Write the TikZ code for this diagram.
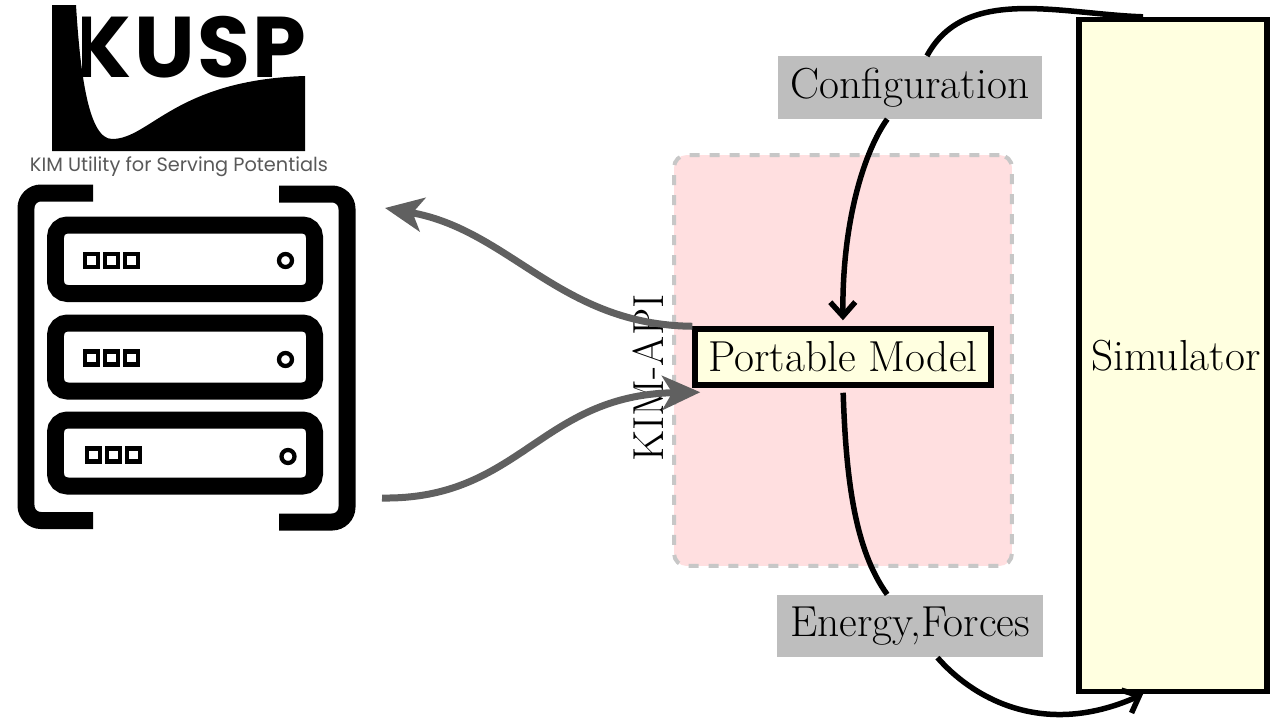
\documentclass[tikz,border=0pt]{standalone}
\usepackage{fontspec}
\usepackage{xcolor}
\usepackage{tikz}
\usetikzlibrary{positioning}
\usetikzlibrary{arrows.meta}
\newfontfamily\logofont{Poppins}
\newfontfamily\logotitle[LetterSpace=3]{Poppins}
\definecolor{ivory}{HTML}{FFFFE0}
\definecolor{labelgrey}{HTML}{BEBEBE}
\definecolor{apipink}{HTML}{FFDFE0}
\definecolor{linkgrey}{HTML}{606060}
\newcommand{\bigtext}{\fontsize{24.7}{29}\selectfont}
\begin{document}
\begin{tikzpicture}[x=0.02cm,y=-0.02cm,
    flow/.style={line width=0.11cm,black},
    link/.style={line width=0.14cm,linkgrey,-{Stealth[length=0.76cm,width=0.68cm,inset=0.2cm]}},
    bar/.style={line width=0.34cm,black},
    mark box/.style={line width=0.085cm,black},
    block/.style={draw=black,fill=ivory,line width=0.11cm,font=\bigtext,inner sep=0pt},
    tag/.style={fill=labelgrey,font=\bigtext,inner sep=0pt,minimum height=1.25cm,minimum width=5.3cm}]
  \useasboundingbox (0,0) rectangle (1280,720);
  % logo
  \node[anchor=base east,font=\logotitle\bfseries\fontsize{49}{49}\selectfont,inner sep=0pt] (kusp) at (307,77) {KUSP};
  \fill[white] (45,0) rectangle (82,80);
  \fill (52,5) -- (76,5) .. controls (80,70) and (88,139) .. (112,139)
    .. controls (150,139) and (175,80) .. (305,76) -- (305,151) -- (52,151) -- cycle;
  \node[font=\logofont\fontsize{11}{13}\selectfont,text=black!65] (tagline) at (179,166.5) {KIM Utility for Serving Potentials};
  % server rack
  \draw[bar,rounded corners=0.3cm] (93,193) -- (26,193) -- (26,520.5) -- (93,520.5);
  \draw[bar,rounded corners=0.3cm] (279,194) -- (347,194) -- (347,522) -- (279,522);
  \foreach \ytop/\ybot/\xm/\ym/\xc/\yc in {225/293.5/91.5/260.5/285.5/260.5,
      323/391/91.5/358/285.5/359.5, 420/486/93.5/455/288/456.5} {
    \draw[bar,rounded corners=0.24cm] (55.5,\ytop) rectangle (314.5,\ybot);
    \foreach \i in {0,1,2}
      \draw[mark box] (\xm+20*\i-6.5,\ym-6.5) rectangle +(13,13);
    \draw[mark box] (\xc,\yc) circle (0.13cm);
  }
  % KIM-API region
  \node[draw=black!22,fill=apipink,line width=0.08cm,dash pattern=on 0.2cm off 0.2cm,rounded corners=0.25cm,
    minimum width=6.76cm,minimum height=8.22cm,inner sep=0pt] (api) at (843,360.5) {};
  \node[rotate=90,font=\bigtext,inner sep=0pt] (apilabel) at (648,378) {KIM-API};
  \node[block,minimum width=5.92cm,minimum height=1.12cm] (model) at (843,357) {Portable Model};
  \node[block,minimum width=3.76cm,minimum height=13.44cm] (sim) at (1173,355.5) {\hspace*{0.12cm}Simulator};
  \node[tag] (cfg) at (910,87.5) {Configuration};
  \node[tag,minimum width=5.32cm] (energy) at (910,626) {Energy,Forces};
  \coordinate (kuspin) at (385,208);
  \coordinate (kuspout) at (382,498);
  % connectors
  \draw[link] (model.north west) .. controls (560,325) and (510,230) .. (kuspin);
  \draw[link] (kuspout) .. controls (520,500) and (540,395) .. ([xshift=0.16cm,yshift=-0.09cm]model.south west);
  \draw[flow] ([xshift=-0.6cm]sim.north) .. controls (1060,14) and (965,-15) .. (cfg);
  \draw[flow,-{Straight Barb[length=0.28cm,width=0.5cm]},shorten >=0.12cm] (cfg) .. controls (865,150) and (842,220) .. (model.north);
  \draw[flow,shorten <=0.1cm] (model.south) .. controls (846,480) and (855,550) .. (energy);
  \draw[flow,-{Straight Barb[length=0.28cm,width=0.5cm]}] (energy) .. controls (970,695) and (1040,740) .. ([xshift=-0.6cm]sim.south);
\end{tikzpicture}
\end{document}
